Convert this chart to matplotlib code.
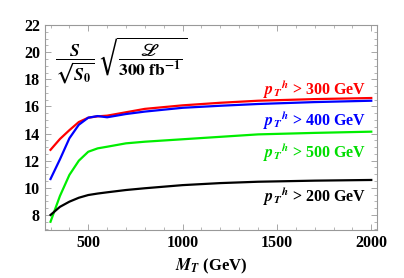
import numpy as np
import matplotlib
matplotlib.use("Agg")
import matplotlib.pyplot as plt
from matplotlib.ticker import MultipleLocator

plt.rcParams['font.family'] = ['Liberation Serif', 'DejaVu Serif']
plt.rcParams['font.weight'] = 'bold'
plt.rcParams['mathtext.fontset'] = 'stix'

# M_T values (GeV) and significance curves for each p_T^h cut
mt = [300, 350, 400, 450, 500, 550, 600, 700, 800, 1000, 1200, 1400, 1700, 2000]
sig_300 = [12.8, 13.6, 14.25, 14.85, 15.17, 15.27, 15.32, 15.57, 15.82, 16.08, 16.27, 16.42, 16.54, 16.62]
sig_400 = [10.65, 12.1, 13.65, 14.65, 15.17, 15.29, 15.2, 15.44, 15.62, 15.9, 16.05, 16.18, 16.32, 16.42]
sig_500 = [7.5, 9.4, 10.95, 12.0, 12.66, 12.91, 13.03, 13.28, 13.4, 13.58, 13.76, 13.94, 14.05, 14.14]
sig_200 = [8.0, 8.6, 8.98, 9.27, 9.47, 9.58, 9.67, 9.84, 9.97, 10.2, 10.35, 10.45, 10.53, 10.58]

fig = plt.figure(figsize=(4.04, 2.78), dpi=100)
ax = fig.add_axes([0.111, 0.173, 0.822, 0.737])

ax.plot(mt, sig_300, color='#ff0000', lw=1.6)
ax.plot(mt, sig_400, color='#0000ff', lw=1.6)
ax.plot(mt, sig_500, color='#00ee00', lw=1.6)
ax.plot(mt, sig_200, color='black', lw=1.6)

lab = r'$\mathbfit{p_T}^{\mathbfit{h}}$ > %d GeV'
ax.text(1975, 16.84, lab % 300, color='#ff0000', ha='right', va='baseline', fontsize=11.5, fontweight='bold')
ax.text(1975, 14.56, lab % 400, color='#0000ff', ha='right', va='baseline', fontsize=11.5, fontweight='bold')
ax.text(1975, 12.18, lab % 500, color='#00dd00', ha='right', va='baseline', fontsize=11.5, fontweight='bold')
ax.text(1975, 8.98, lab % 200, color='black', ha='right', va='baseline', fontsize=11.5, fontweight='bold')

ax.text(0.03, 0.95,
        r'$\dfrac{\mathbfit{S}}{\sqrt{\mathbfit{S}_{\mathbf{0}}}}\;\sqrt{\dfrac{ℒ}{\mathbf{300\ fb}^{\mathbf{-1}}}}$',
        transform=ax.transAxes, ha='left', va='top', fontsize=12.5)

ax.set_xlim(270, 2030)
ax.set_ylim(6.9, 22)
ax.xaxis.set_major_locator(MultipleLocator(500))
ax.xaxis.set_minor_locator(MultipleLocator(100))
ax.yaxis.set_minor_locator(MultipleLocator(0.5))
ax.set_yticks([8, 10, 12, 14, 16, 18, 20, 22])
ax.tick_params(which='both', direction='in', top=True, right=True, color='#999999',
               labelsize=11.5)
ax.tick_params(which='major', length=4, width=0.6)
ax.tick_params(which='minor', length=2, width=0.5)
for t in ax.get_xticklabels() + ax.get_yticklabels():
    t.set_fontweight('bold')
for s in ax.spines.values():
    s.set_color('#999999')
    s.set_linewidth(0.8)

ax.set_xlabel(r'$\mathbfit{M_T}$ (GeV)', fontsize=12, fontweight='bold', labelpad=4)

fig.savefig('out.png', dpi=100)
